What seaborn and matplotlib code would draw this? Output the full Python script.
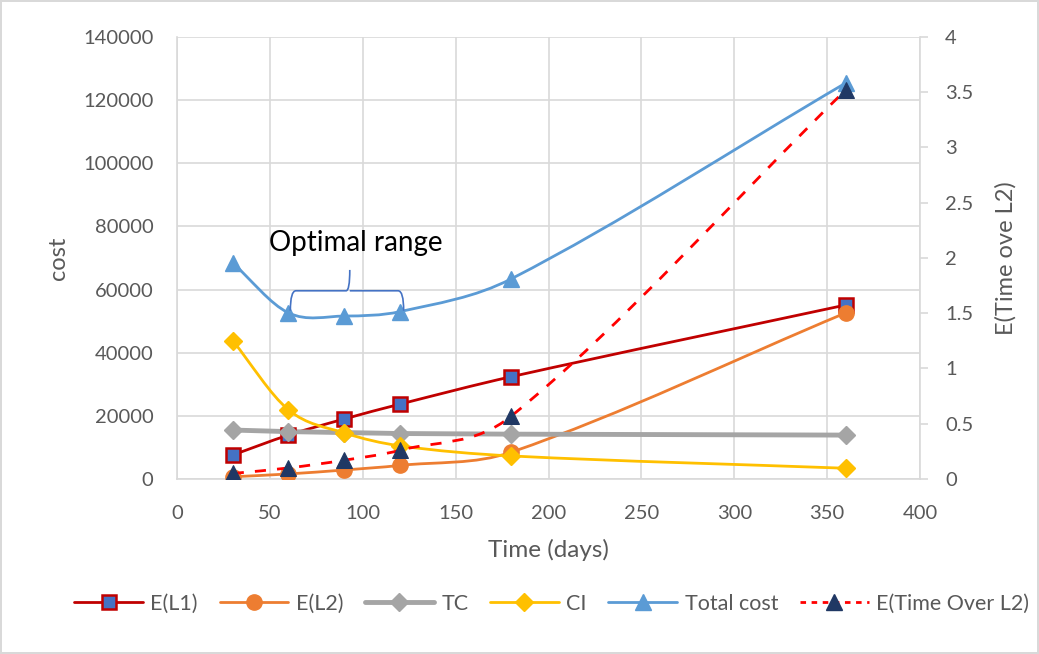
import numpy as np
import matplotlib
matplotlib.use('Agg')
import matplotlib.pyplot as plt
import seaborn as sns
from matplotlib.path import Path
from matplotlib.patches import PathPatch
from matplotlib.lines import Line2D

# data
days = [30, 60, 90, 120, 180, 360]
e_l1 = [7600, 13900, 19000, 23700, 32400, 55100]
e_l2 = [700, 1600, 2850, 4300, 8500, 52600]
tc = [15500, 15000, 14700, 14400, 14200, 13900]
ci = [43800, 21900, 14600, 10500, 7300, 3400]
total_cost = [68400, 52600, 51600, 53000, 63400, 125400]
e_time_over_l2 = [0.05, 0.10, 0.17, 0.26, 0.57, 3.52]

sns.set_theme(style='white')
plt.rcParams['font.family'] = ['Lato', 'DejaVu Sans']
grey_txt = '#595959'
grid_col = '#D9D9D9'


def smooth_path(x, y):
    # smoothed line drawn as cubic bezier segments through the points
    x = np.asarray(x, float)
    y = np.asarray(y, float)
    n = len(x)
    m = np.zeros(n)
    for i in range(n):
        a = max(i - 1, 0)
        b = min(i + 1, n - 1)
        m[i] = (y[b] - y[a]) / (x[b] - x[a])
    verts = [(x[0], y[0])]
    codes = [Path.MOVETO]
    for i in range(n - 1):
        h = x[i + 1] - x[i]
        verts += [(x[i] + h / 3, y[i] + m[i] * h / 3),
                  (x[i + 1] - h / 3, y[i + 1] - m[i + 1] * h / 3),
                  (x[i + 1], y[i + 1])]
        codes += [Path.CURVE4] * 3
    return Path(verts, codes)


fig = plt.figure(figsize=(10.39, 6.54), dpi=100)
ax = fig.add_axes([0.1704, 0.2676, 0.7151, 0.676])
ax2 = ax.twinx()

styles = [
    ('E(L1)', e_l1, '#C00000', 's', '#4472C4', '#C00000', 10),
    ('E(L2)', e_l2, '#ED7D31', 'o', '#ED7D31', '#ED7D31', 11),
    ('TC', tc, '#A5A5A5', 'D', '#A5A5A5', '#A5A5A5', 9),
    ('CI', ci, '#FFC000', 'D', '#FFC000', '#FFC000', 9),
    ('Total cost', total_cost, '#5B9BD5', '^', '#5B9BD5', '#5B9BD5', 11),
]

for name, vals, col, mk, fc, ec, ms in styles:
    if name == 'TC':
        sns.lineplot(x=days, y=vals, ax=ax, color=col, lw=3.5, zorder=3)
    else:
        ax.add_patch(PathPatch(smooth_path(days, vals), fill=False, edgecolor=col, lw=2, zorder=3))
    sns.lineplot(x=days, y=vals, ax=ax, linestyle='', marker=mk, markersize=ms,
                 markerfacecolor=fc, markeredgecolor=ec,
                 markeredgewidth=1.8 if name == 'E(L1)' else 1, zorder=4)

ax2.add_patch(PathPatch(smooth_path(days, e_time_over_l2), fill=False, edgecolor='#FF0000',
                        lw=2, linestyle=(0, (4, 4)), zorder=3))
sns.lineplot(x=days, y=e_time_over_l2, ax=ax2, linestyle='', marker='^', markersize=11,
             markerfacecolor='#203864', markeredgecolor='#203864', zorder=4)

# optimal range brace
bc = '#4472C4'
bx0, bx1, bxm = 61, 122, 93
by0, by1, byt = 53300, 59600, 66200
brace = Path(
    [(bx0, by0), (bx0, by1), (bx0 + 3, by1), (bxm - 2, by1), (bxm, by1), (bxm, byt),
     (bxm, by1), (bxm + 2, by1), (bx1 - 3, by1), (bx1, by1), (bx1, by0)],
    [Path.MOVETO, Path.CURVE3, Path.CURVE3, Path.LINETO, Path.CURVE3, Path.CURVE3,
     Path.MOVETO, Path.CURVE3, Path.LINETO, Path.CURVE3, Path.CURVE3])
ax.add_patch(PathPatch(brace, fill=False, edgecolor=bc, lw=1.2, zorder=5))
ax.text(96, 74800, 'Optimal range', ha='center', va='center', fontsize=20, color='black')

ax.set_xlim(0, 400)
ax.set_ylim(0, 140000)
ax2.set_ylim(0, 4)
ax.set_xticks(range(0, 401, 50))
ax.set_yticks(range(0, 140001, 20000))
ax2.set_yticks(np.arange(0, 4.01, 0.5))
ax2.set_yticklabels(['0', '0.5', '1', '1.5', '2', '2.5', '3', '3.5', '4'])

ax.grid(True, color=grid_col, lw=1.2)
ax.set_axisbelow(True)
for s in ['top', 'right']:
    ax.spines[s].set_visible(False)
for s in ['left', 'top', 'bottom']:
    ax2.spines[s].set_visible(False)
ax.spines['bottom'].set_color(grid_col)
ax.spines['left'].set_color(grid_col)
ax.spines['bottom'].set_linewidth(1.2)
ax.spines['left'].set_linewidth(1.2)
ax2.spines['right'].set_color(grid_col)
ax2.spines['right'].set_linewidth(1.2)

ax.tick_params(axis='x', length=0, labelsize=14.5, labelcolor=grey_txt, pad=19)
ax.tick_params(axis='y', length=0, labelsize=14.5, labelcolor=grey_txt, pad=17)
ax2.tick_params(axis='y', length=6, width=1.2, color=grid_col, labelsize=14.5,
                labelcolor=grey_txt, pad=12, direction='out', right=True)

ax.set_xlabel('Time (days)', fontsize=17.5, color=grey_txt, labelpad=12)
ax.set_ylabel('cost', fontsize=17, color=grey_txt, labelpad=10)
ax2.set_ylabel('E(Time ove L2)', fontsize=17, color=grey_txt, labelpad=16)

handles = [Line2D([], [], color=col, lw=3.5 if name == 'TC' else 2, marker=mk, markersize=ms,
                  markerfacecolor=fc, markeredgecolor=ec,
                  markeredgewidth=1.8 if name == 'E(L1)' else 1)
           for name, vals, col, mk, fc, ec, ms in styles]
handles.append(Line2D([], [], color='#FF0000', lw=2, linestyle=(0, (2, 2)), marker='^',
                      markersize=11, markerfacecolor='#203864', markeredgecolor='#203864'))
labels = [s[0] for s in styles] + ['E(Time Over L2)']
leg = fig.legend(handles, labels, loc='center', bbox_to_anchor=(0.531, 0.077), ncol=6,
                 frameon=False, fontsize=15.5, handlelength=3.2, columnspacing=1.0,
                 handletextpad=0.35)
for t in leg.get_texts():
    t.set_color(grey_txt)

fig.patch.set_edgecolor(grid_col)
fig.patch.set_linewidth(1.5)
fig.savefig('out.png', dpi=100, edgecolor=fig.get_edgecolor())
